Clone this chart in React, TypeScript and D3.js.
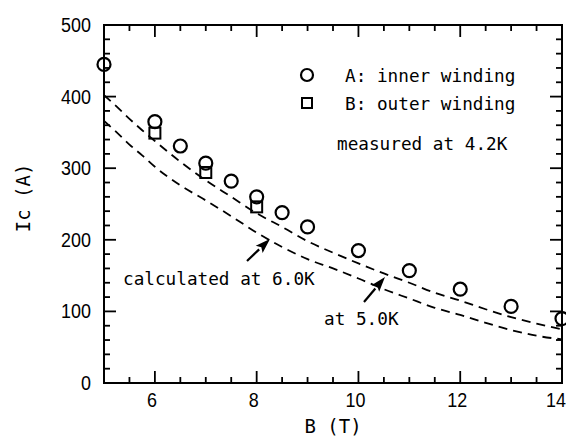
import React from "react";
import * as d3 from "d3";

const bA = [5.0, 6.0, 6.5, 7.0, 7.5, 8.0, 8.5, 9.0, 10.0, 11.0, 12.0, 13.0, 14.0];
const icA = [445, 365, 331, 307, 282, 260, 238, 218, 185, 157, 131, 107, 90];

const bB = [6.0, 7.0, 8.0];
const icB = [349, 294, 246];

const bCalc = [5.0, 5.25, 5.5, 5.75, 6.0, 6.5, 7.0, 7.5, 8.0, 8.5, 9.0, 9.5, 10.0, 10.5, 11.0, 11.5, 12.0, 12.5, 13.0, 13.5, 14.0];
const ic50K = [402, 386, 369, 353, 338, 309, 283, 260, 237, 218, 198, 182, 167, 153, 140, 126, 115, 103, 92, 83, 75];
const ic60K = [366, 350, 333, 318, 302, 276, 255, 233, 210, 190, 173, 160, 146, 131, 118, 105, 95, 84, 74, 66, 61];

const xLabels = [6, 8, 10, 12, 14];
const yLabels = [0, 100, 200, 300, 400, 500];

const L = 104, R = 562, T = 25, B = 383;

export default function App() {
  const x = d3.scaleLinear().domain([5, 14]).range([L, R]);
  const y = d3.scaleLinear().domain([0, 500]).range([B, T]);

  const line = d3
    .line<[number, number]>()
    .x((d) => x(d[0]))
    .y((d) => y(d[1]))
    .curve(d3.curveMonotoneX);

  const xMinor = d3.range(5, 14.01, 0.5);
  const yMinor = d3.range(0, 500.1, 20);

  const mono = "'DejaVu Sans Mono', 'Liberation Mono', monospace";
  const sans = "'Liberation Sans', Arial, sans-serif";

  const arrow = (x1: number, y1: number, x2: number, y2: number, key: string) => {
    const ang = Math.atan2(y2 - y1, x2 - x1);
    const len = 15, w = 5;
    const bx = x2 - len * Math.cos(ang), by = y2 - len * Math.sin(ang);
    const px = -Math.sin(ang) * w, py = Math.cos(ang) * w;
    return (
      <g key={key}>
        <line x1={x1} y1={y1} x2={bx} y2={by} stroke="#000" strokeWidth={2.2} />
        <path d={`M${x2},${y2}L${bx + px},${by + py}L${bx + (x2 - bx) * 0.2},${by + (y2 - by) * 0.2}L${bx - px},${by - py}Z`} fill="#000" />
      </g>
    );
  };

  const xLabelX = (v: number) => Math.min(x(v) - 3, 556);

  return (
    <svg width={566} height={439} style={{ position: "absolute", left: 0, top: 0, background: "#fff" }}>
      <rect x={0} y={0} width={566} height={439} fill="#fff" />
      {/* ticks */}
      {xMinor.map((v) => {
        const major = Math.abs(v % 2) < 1e-6;
        const len = major ? 12 : 6;
        return (
          <g key={"xt" + v}>
            <line x1={x(v)} x2={x(v)} y1={B} y2={B - len} stroke="#000" strokeWidth={1.8} />
            <line x1={x(v)} x2={x(v)} y1={T} y2={T + len} stroke="#000" strokeWidth={1.8} />
          </g>
        );
      })}
      {yMinor.map((v) => {
        const major = Math.abs(v % 100) < 1e-6;
        const len = major ? 12 : 6;
        return (
          <g key={"yt" + v}>
            <line x1={L} x2={L + len} y1={y(v)} y2={y(v)} stroke="#000" strokeWidth={1.8} />
            <line x1={R} x2={R - len} y1={y(v)} y2={y(v)} stroke="#000" strokeWidth={1.8} />
          </g>
        );
      })}
      <rect x={L} y={T} width={R - L} height={B - T} fill="none" stroke="#000" strokeWidth={2} />

      {/* tick labels */}
      {xLabels.map((v) => (
        <text
          key={"xl" + v}
          transform={`translate(${xLabelX(v)},407) scale(0.92,1)`}
          textAnchor="middle"
          fontFamily={sans}
          fontSize={19.5}
        >
          {v}
        </text>
      ))}
      {yLabels.map((v) => (
        <text
          key={"yl" + v}
          transform={`translate(91,${y(v) + 7}) scale(0.92,1)`}
          textAnchor="end"
          fontFamily={sans}
          fontSize={19.5}
        >
          {v}
        </text>
      ))}

      {/* axis titles */}
      <text x={333} y={433} textAnchor="middle" fontFamily={mono} fontSize={19}>
        B (T)
      </text>
      <text transform="translate(30,198) rotate(-90)" textAnchor="middle" fontFamily={mono} fontSize={19}>
        Ic (A)
      </text>

      {/* calculated curves */}
      <path d={line(bCalc.map((b, i) => [b, ic50K[i]]) as any) || ""} fill="none" stroke="#000" strokeWidth={1.8} strokeDasharray="9,6" />
      <path d={line(bCalc.map((b, i) => [b, ic60K[i]]) as any) || ""} fill="none" stroke="#000" strokeWidth={1.8} strokeDasharray="9,6" />

      {/* markers */}
      {bB.map((b, i) => (
        <rect key={"sq" + i} x={x(b) - 5.5} y={y(icB[i]) - 5.5} width={11} height={11} fill="none" stroke="#000" strokeWidth={2} />
      ))}
      {bA.map((b, i) => (
        <circle key={"c" + i} cx={x(b)} cy={y(icA[i])} r={6.5} fill="none" stroke="#000" strokeWidth={2.2} />
      ))}

      {/* legend */}
      <circle cx={307} cy={75} r={6} fill="none" stroke="#000" strokeWidth={2.2} />
      <rect x={302} y={98} width={10} height={10} fill="none" stroke="#000" strokeWidth={2} />
      <text x={345} y={82} fontFamily={mono} fontSize={17.7}>A: inner winding</text>
      <text x={345} y={110} fontFamily={mono} fontSize={17.7}>B: outer winding</text>
      <text x={337} y={150} fontFamily={mono} fontSize={17.7}>measured at 4.2K</text>

      {/* annotations */}
      <text x={123} y={285} fontFamily={mono} fontSize={17.7}>calculated at 6.0K</text>
      <text x={324} y={325} fontFamily={mono} fontSize={17.7}>at 5.0K</text>
      {arrow(247, 261, 270, 239, "a1")}
      {arrow(364, 302, 385, 277, "a2")}
    </svg>
  );
}
